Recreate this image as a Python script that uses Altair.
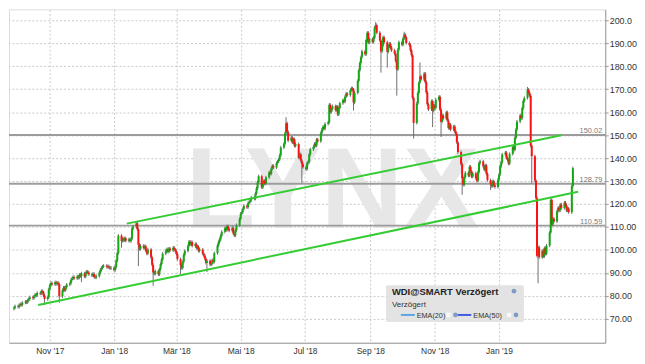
import altair as alt
import pandas as pd

# ---- daily closes (Sep 2017 - Mar 2019) ----
closes = [
    74.8, 75.5, 75.2, 76.0, 76.4, 76.1, 77.0, 77.5, 77.2, 78.1,
    78.6, 79.4, 79.0, 79.8, 80.5, 80.2, 81.3, 81.0, 82.1, 81.6,
    80.2, 78.6, 79.4, 82.8, 84.6, 85.6, 85.0, 85.9, 85.2, 85.7,
    85.1, 79.8, 82.4, 83.6, 82.5, 83.8, 84.9, 85.4, 86.9, 87.6,
    88.2, 87.6, 88.4, 87.9, 89.2, 88.6, 89.8, 88.4, 89.9, 90.6,
    90.1, 89.4, 88.9, 89.6, 88.3, 88.0, 88.6, 90.2, 91.4, 92.2,
    92.8, 93.1, 92.6, 92.9, 92.4, 92.0, 92.3, 91.2, 92.6, 95.4,
    98.6, 106.2, 103.9, 104.8, 104.2, 105.1, 104.0, 104.6, 103.9, 104.9,
    109.4, 110.2, 111.6, 109.0, 102.3, 100.4, 101.8, 100.9, 101.6, 99.8,
    98.4, 100.2, 96.8, 93.5, 90.2, 89.6, 90.8, 89.4, 91.6, 93.8,
    95.8, 98.4, 99.6, 100.3, 99.2, 100.6, 99.8, 101.0, 100.2, 99.5,
    98.2, 96.0, 93.4, 92.1, 94.8, 97.9, 99.6, 101.8, 103.6, 102.4,
    103.4, 101.8, 102.6, 100.9, 101.4, 99.6, 100.2, 98.4, 97.6, 96.2,
    94.4, 95.3, 93.6, 94.0, 95.6, 94.8, 98.6, 101.9, 103.4, 104.6,
    106.2, 107.9, 109.4, 108.6, 110.3, 109.2, 108.4, 109.6, 107.2, 106.3,
    108.6, 110.8, 113.5, 115.8, 116.4, 117.9, 119.2, 118.6, 120.4, 120.9,
    121.6, 122.8, 122.3, 124.6, 126.8, 129.4, 132.1, 127.2, 128.6, 130.2,
    128.9, 131.6, 133.8, 133.2, 135.4, 136.6, 135.9, 137.8, 138.6, 139.4,
    141.2, 144.6, 146.2, 150.8, 155.2, 151.4, 147.6, 148.9, 146.8, 148.2,
    145.3, 146.1, 140.2, 141.6, 138.9, 137.4, 136.0, 135.2, 137.9, 138.4,
    141.6, 143.8, 144.9, 146.2, 145.4, 148.1, 147.3, 150.9, 152.4, 153.6,
    152.8, 154.9, 155.6, 163.2, 160.1, 161.4, 162.6, 160.9, 162.4, 159.0,
    161.8, 163.9, 165.2, 164.6, 166.8, 168.1, 167.4, 169.6, 170.4, 169.8,
    164.2, 168.4, 173.6, 178.2, 181.4, 183.9, 186.5, 185.2, 191.4, 194.6,
    190.3, 191.8, 190.6, 192.4, 196.8, 197.9, 194.6, 191.2, 186.4, 188.9,
    192.6, 190.4, 186.3, 188.6, 189.8, 188.1, 186.9, 185.4, 182.3, 178.6,
    187.2, 190.5, 189.4, 192.1, 193.8, 192.6, 190.1, 189.2, 186.9, 184.8,
    166.2, 155.3, 163.8, 168.4, 172.9, 175.6, 174.2, 176.8, 173.1, 168.6,
    163.4, 161.2, 164.8, 160.6, 162.9, 161.8, 165.4, 166.7, 161.2, 155.8,
    158.6, 157.2, 159.9, 156.4, 153.1, 154.6, 152.4, 153.8, 151.6, 150.4,
    146.8, 142.6, 137.4, 131.2, 128.4, 131.8, 133.6, 132.4, 136.2, 134.1,
    131.9, 133.4, 131.2, 130.1, 133.9, 137.8, 138.6, 136.4, 134.9, 136.8,
    133.2, 130.4, 128.6, 127.8, 129.9, 128.2, 127.4, 130.6, 132.8, 136.4,
    138.2, 141.6, 142.4, 140.1, 139.3, 137.6, 141.8, 144.9, 143.6, 148.8,
    152.4, 155.9, 158.6, 157.4, 161.8, 164.9, 166.2, 169.8, 168.4, 167.1,
    145.4, 140.8, 130.2, 122.6, 97.4, 101.2, 96.8, 99.6, 97.2, 100.8,
    98.4, 101.9, 107.6, 121.8, 111.0, 113.6, 112.4, 116.9, 118.4, 117.2,
    119.8, 118.3, 120.6, 119.4, 117.2, 118.1, 116.4, 127.8, 135.6,
]
first_open = 74.4
start_date = "2017-09-28"

# notable wick extremes (index -> price)
high_spikes = {82: 112.6, 184: 157.8, 245: 199.2, 264: 195.0, 275: 181.6, 347: 171.0}
low_spikes = {21: 76.0, 31: 77.0, 46: 86.0, 67: 90.6, 72: 101.0, 84: 93.0, 94: 84.4,
              112: 89.5, 131: 90.4, 195: 129.0, 230: 160.7, 248: 177.2, 252: 179.4,
              259: 167.2, 271: 148.5, 283: 153.5, 289: 149.2, 303: 124.0, 322: 126.1,
              351: 129.0, 355: 85.5}

# horizontal levels
levels = [150.02, 128.79, 110.59]
level_labels = ["150.02", "128.79", "110.59"]

# trend lines (start/end)
trend_seg = ["upper", "upper", "lower", "lower"]
trend_dates = ["2018-01-13", "2019-03-01", "2017-10-21", "2019-03-17"]
trend_prices = [111.45, 149.9, 76.0, 125.3]

y_ticks = [70, 80, 90, 100, 110, 120, 130, 140, 150, 160, 170, 180, 190, 200]
x_ticks = [(2017, 11), (2018, 1), (2018, 3), (2018, 5), (2018, 7), (2018, 9), (2018, 11), (2019, 1)]

# ---- build tables ----
dates = pd.bdate_range(start_date, periods=len(closes)).strftime("%Y-%m-%d")
opens = [first_open] + closes[:-1]
highs = [max(o, c) + 0.7 for o, c in zip(opens, closes)]
lows = [min(o, c) - 0.7 for o, c in zip(opens, closes)]
for i, v in high_spikes.items():
    highs[i] = v
for i, v in low_spikes.items():
    lows[i] = v
df = pd.DataFrame({"date": dates, "open": opens, "close": closes, "high": highs, "low": lows})
df["dir"] = ["up" if c >= o else "down" for o, c in zip(opens, closes)]

lv = pd.DataFrame({"level": levels, "label": level_labels})
tr = pd.DataFrame({"seg": trend_seg, "date": trend_dates, "price": trend_prices})

FONT = "Liberation Sans"
W, H = 601, 336

xscale = alt.Scale(type="utc",
                   domain=[alt.DateTime(year=2017, month=9, date=28, utc=True),
                           alt.DateTime(year=2019, month=4, date=7, utc=True)])
yscale = alt.Scale(domain=[59.6, 204.75], nice=False, zero=False)

xaxis = alt.Axis(
    values=[alt.DateTime(year=y, month=m, date=1, utc=True) for y, m in x_ticks],
    labelExpr="['Jan','Feb','Mär','Apr','Mai','Jun','Jul','Aug','Sep','Okt','Nov','Dez'][utcmonth(datum.value)] + \" '\" + utcFormat(datum.value, '%y')",
    title=None, grid=True, ticks=False, labelPadding=4, labelFontSize=8.5,
    labelFont=FONT, labelColor="#333333", domainColor="#9a9a9a", domainWidth=1,
    gridColor="#c8c8c8", gridDash=[2, 2], labelFlush=False, labelOverlap=False,
)
yaxis = alt.Axis(
    orient="right", values=y_ticks,
    labelExpr="datum.value == 200 ? '200.0' : format(datum.value, '.2f')",
    title=None, grid=True, tickSize=3, tickColor="#9a9a9a", labelPadding=1,
    labelFontSize=9, labelFont=FONT, labelColor="#333333", labelOverlap=False,
    labelBound=False, labelFlush=False,
    domainColor="#9a9a9a", domainWidth=1, gridColor="#c8c8c8", gridDash=[2, 2],
)


def Y(field):
    return alt.Y(field, scale=yscale, axis=yaxis)


base_x = alt.X("date:T", scale=xscale, axis=xaxis)

# watermark
wm = alt.Chart(pd.DataFrame({"t": ["LYNX"]})).mark_text(
    font="Liberation Sans Narrow, Liberation Sans", fontWeight="bold", fontSize=115,
    color="#e7e7e7", align="center", baseline="alphabetic"
).encode(text="t:N", x=alt.value(326), y=alt.value(220))

# level lines
lvl = alt.Chart(lv).mark_rule(color="#9c9c9c", strokeWidth=2).encode(y=Y("level:Q"))
lvl_txt = alt.Chart(lv).mark_text(
    align="right", baseline="alphabetic", dy=-2, fontSize=7.5, font=FONT, color="#7a7a7a"
).encode(text="label:N", x=alt.value(598), y=Y("level:Q"))

# candles
wick = alt.Chart(df).mark_rule(color="#6e6e6e", strokeWidth=1).encode(
    x=base_x, y=Y("low:Q"), y2="high:Q")
body = alt.Chart(df).mark_bar(size=2).encode(
    x=base_x, y=Y("open:Q"), y2="close:Q",
    color=alt.Color("dir:N", scale=alt.Scale(domain=["up", "down"], range=["#12a812", "#ff1010"]), legend=None))

# trend lines
trend = alt.Chart(tr).mark_line(color="#33cc33", strokeWidth=2).encode(
    x=base_x, y=Y("price:Q"), detail="seg:N")

# legend box (decoration)
box = alt.Chart(pd.DataFrame({"a": [0]})).mark_rect(color="#e3e3e3", cornerRadius=2).encode(
    x=alt.value(380), x2=alt.value(519), y=alt.value(278), y2=alt.value(315))
ttl = alt.Chart(pd.DataFrame({"t": ["WDI@SMART Verzögert"]})).mark_text(
    align="left", baseline="alphabetic", font=FONT, fontSize=9.5, fontWeight="bold", color="#222222"
).encode(text="t:N", x=alt.value(386), y=alt.value(288))
sub = alt.Chart(pd.DataFrame({"t": ["Verzögert"]})).mark_text(
    align="left", baseline="alphabetic", font=FONT, fontSize=8, color="#333333"
).encode(text="t:N", x=alt.value(386), y=alt.value(300))
ema = alt.Chart(pd.DataFrame({"t": ["EMA(20)", "EMA(50)"], "px": [411, 468]})).mark_text(
    align="left", baseline="alphabetic", font=FONT, fontSize=7.3, color="#333333"
).encode(text="t:N", x=alt.X("px:Q", scale=None), y=alt.value(311))
ln1 = alt.Chart(pd.DataFrame({"a": [0]})).mark_rule(color="#5aa7e6", strokeWidth=2).encode(
    x=alt.value(395), x2=alt.value(409), y=alt.value(308))
ln2 = alt.Chart(pd.DataFrame({"a": [0]})).mark_rule(color="#3f5be0", strokeWidth=2).encode(
    x=alt.value(452), x2=alt.value(466), y=alt.value(308))
sq = alt.Chart(pd.DataFrame({"px": [443, 504]})).mark_square(
    size=20, filled=True, color="#ffffff").encode(x=alt.X("px:Q", scale=None), y=alt.value(308))
ic = alt.Chart(pd.DataFrame({"px": [450, 511, 509]}).assign(py=[308, 308, 284])).mark_circle(
    size=22, color="#7f9cc4", opacity=1).encode(x=alt.X("px:Q", scale=None), y=alt.Y("py:Q", scale=None))

chart = alt.layer(
    wm, lvl, lvl_txt, wick, body, trend, box, ttl, sub, ema, ln1, ln2, sq, ic
).properties(width=W, height=H, padding=0).configure_view(stroke=None).configure_axis(
    labelOverlap=False).configure(background="#ffffff")

chart.save("out.html", embed_options={"renderer": "svg", "actions": False})
